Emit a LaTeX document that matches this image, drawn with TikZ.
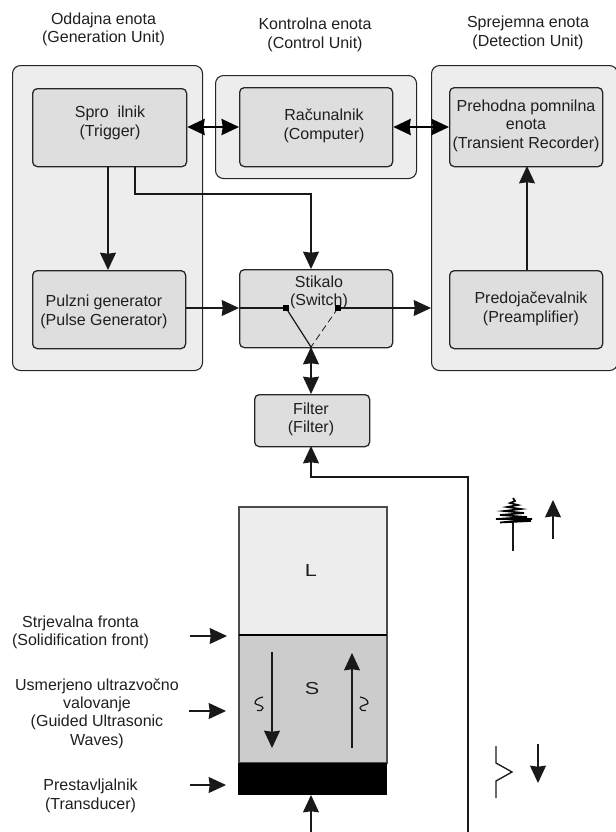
\documentclass[tikz,border=0pt]{standalone}
\usepackage{fontspec}
\setmainfont{Liberation Sans}
\usetikzlibrary{arrows.meta,calc}
\definecolor{outerc}{gray}{0.93}
\definecolor{innerc}{gray}{0.87}
\definecolor{solidc}{gray}{0.80}
\definecolor{liquidc}{gray}{0.93}
\definecolor{txt}{gray}{0.12}
\tikzset{
  x=0.75pt,y=-0.75pt,
  outerbox/.style={draw=black!85,line width=0.8pt,fill=outerc,rounded corners=6pt},
  innerbox/.style={draw=black!85,line width=0.95pt,fill=innerc,rounded corners=3.5pt},
  lbl/.style={font=\fontsize{12pt}{13.8pt}\selectfont,align=center,text=txt,inner sep=0pt},
  conn/.style={draw=black!90,line width=0.9pt},
  tipped/.style={conn,-{Stealth[length=13pt,width=12pt,inset=0.8pt]}},
  both/.style={conn,{Stealth[length=13pt,width=12pt,inset=0.8pt]}-{Stealth[length=13pt,width=12pt,inset=0.8pt]}},
  boldboth/.style={draw=black,line width=1.9pt,{Stealth[length=13pt,width=12pt,inset=0.8pt]}-{Stealth[length=13pt,width=12pt,inset=0.8pt]}},
  sw/.style={fill=black,inner sep=0pt,minimum size=4.5pt},
  big/.style={lbl,font=\fontsize{13pt}{14pt}\selectfont,xscale=1.25},
}
\newcommand{\ibox}[5]{\node[innerbox,minimum width=#4*0.75pt,minimum height=#5*0.75pt,anchor=north west,inner sep=0pt] (#1) at (#2,#3) {};}
\begin{document}
\begin{tikzpicture}
\useasboundingbox (0,0) rectangle (616,832);
\clip (0,0) rectangle (616,832);
% outer
\node[outerbox,anchor=north west,minimum width=190*0.75pt,minimum height=305*0.75pt,inner sep=0pt] (gen) at (12,65) {};
\node[outerbox,anchor=north west,minimum width=201*0.75pt,minimum height=103*0.75pt,inner sep=0pt] (ctl) at (215,75) {};
\node[outerbox,anchor=north west,minimum width=186*0.75pt,minimum height=305*0.75pt,inner sep=0pt] (det) at (431,65) {};
% inner
\ibox{trig}{32}{88}{154}{78}
\ibox{comp}{239}{87}{153}{79}
\ibox{rec}{449}{87}{153}{79}
\ibox{pulse}{32}{270}{153}{78}
\ibox{swit}{239}{269}{153}{78}
\ibox{pre}{449}{270}{153}{78}
\ibox{filt}{254}{394}{115}{52}
% titles
\node[lbl] (t1) at (103.5,29.5) {Oddajna enota\\(Generation Unit)};
\node[lbl] (t2) at (315,35) {Kontrolna enota\\(Control Unit)};
\node[lbl] (t3) at (528,33) {Sprejemna enota\\(Detection Unit)};
% box texts
\node[lbl] at (110,123) {Spro\ \ ilnik\\(Trigger)};
\node[lbl] at (324,126) {Računalnik\\(Computer)};
\node[lbl] at (526,125.5) {Prehodna pomnilna\\enota\\(Transient Recorder)};
\node[lbl] at (104,312) {Pulzni generator\\(Pulse Generator)};
% column
\fill[liquidc] (239,507) rectangle (387,635);
\fill[solidc] (239,635) rectangle (387,763);
\draw[black!70,line width=0.8pt] (239,507) rectangle (387,763);
\node[fill=black,anchor=north west,minimum width=149*0.75pt,minimum height=32*0.75pt,inner sep=0pt] (trans) at (238,763) {};
\coordinate (frontL) at (239,635);
\coordinate (frontR) at (387,635);
\draw[black,line width=1.7pt] (frontL) -- (frontR);
\node[big] (L) at (311,571) {L};
\node[big] (S) at (312,689) {S};
% connectors top
\draw[boldboth] (trig.east|-0,127) -- (comp.west|-0,127);
\draw[boldboth] (comp.east|-0,127) -- (rec.west|-0,127);
\draw[tipped] (108,166) -- (108,270);
\draw[tipped] (135,166) -- (135,194) -- (311,194) -- (311,269);
\draw[tipped] (pulse.east|-0,308) -- (swit.west|-0,308);
\coordinate (s1) at (286,308);
\coordinate (s2) at (338,308);
\coordinate (s3) at (311,347);
\node[lbl] at (319,292.5) {Stikalo\\(Switch)};
\node[lbl] at (531,309) {Predojačevalnik\\(Preamplifier)};
\node[lbl] at (311,419.5) {Filter\\(Filter)};
\draw[conn] (swit.west|-0,308) -- (s1);
\draw[tipped] (s2) -- (det.west|-0,308);
\draw[conn] (s1) -- (s3);
\draw[conn,dash pattern=on 5pt off 3pt,line width=0.6pt] (s2) -- (s3);
\node[sw] at (s1) {};
\node[sw] at (s2) {};
\draw[tipped] (527,270) -- (527,166);
\draw[both] (s3) -- (311,394);
% return path
\coordinate (bot1) at (468,832);
\coordinate (bot2) at (311,832);
\draw[tipped,line width=1.1pt] (bot1) -- (468,477) -- (311,477) -- (311,446);
\draw[tipped,line width=1.1pt] (bot2) -- (311,795);
% side labels
\node[lbl] (a) at (80.5,632.5) {Strjevalna fronta\\(Solidification front)};
\node[lbl] (b) at (97,713.5) {Usmerjeno ultrazvočno\\valovanje\\(Guided Ultrasonic\\Waves)};
\node[lbl] (c) at (90.5,796) {Prestavljalnik\\(Transducer)};
\coordinate (a1) at (190,636); \coordinate (a2) at (227,636);
\coordinate (b1) at (189,711); \coordinate (b2) at (226,711);
\coordinate (c1) at (190,785); \coordinate (c2) at (226,785);
\draw[tipped] (a1) -- (a2);
\draw[tipped] (b1) -- (b2);
\draw[tipped] (c1) -- (c2);
% inner wave arrows
\draw[tipped] (272,652) -- (272,748);
\draw[tipped] (352,748) -- (352,653);
\draw[conn] (263,697) .. controls (258,698) and (255,700) .. (255,703) .. controls (255,705) and (263,705) .. (263,708) .. controls (263,711) and (260,710.5) .. (257,710.5);
\draw[conn] (360,697) .. controls (365,698) and (368,700) .. (368,703) .. controls (368,705) and (360,705) .. (360,708) .. controls (360,711) and (363,710.5) .. (366,710.5);
% legend
\draw[tipped] (553,539) -- (553,500);
\draw[tipped] (538,744) -- (538,783);
\draw[draw=black!90,line width=1pt] (496,746) -- (496,763) -- (512,772) -- (496,781) -- (496,798);
\draw[draw=black!90,line width=0.9pt] (513,551) -- (513,521);
\draw[black,line width=1.25pt] (513,498) -- (515,501) -- (510,503) -- (518,505) -- (507,507) -- (521,509) -- (504,511) -- (524,513) -- (500,515) -- (527,517) -- (496,519) -- (532,519) -- (500,522.5) -- (531,521);
\end{tikzpicture}
\end{document}
